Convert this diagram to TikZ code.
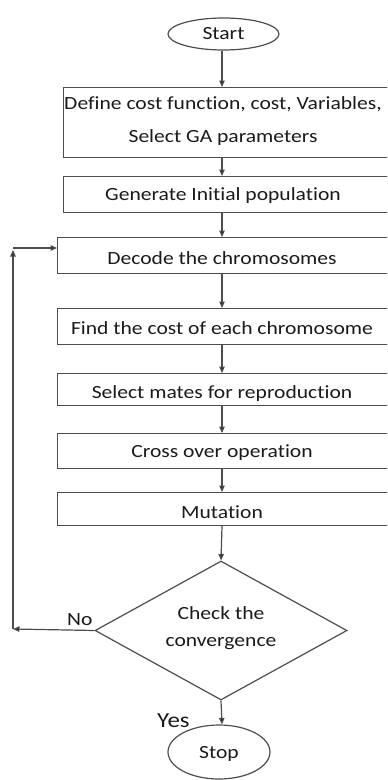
\documentclass[tikz,border=0pt]{standalone}
\usepackage{fontspec}
\setmainfont{Carlito}[FakeStretch=1.16, Ligatures={NoCommon}]
\usetikzlibrary{shapes.geometric,arrows.meta}
\definecolor{lineg}{HTML}{4D4D4D}
\definecolor{textg}{HTML}{1A1A1A}
\begin{document}
\begin{tikzpicture}[x=1bp,y=-1bp,
  font=\fontsize{18.6bp}{22bp}\selectfont,
  every node/.style={text=textg},
  stroke/.style={draw=lineg, line width=1.2bp},
  boxnode/.style={stroke, rectangle, inner sep=0pt, anchor=north west, minimum width=345bp},
  txt/.style={anchor=base, inner sep=0pt},
  term/.style={stroke, ellipse, inner sep=0pt},
  arr/.style={stroke, -{Triangle[length=6.5bp,width=5.5bp,fill=black!85]}}
]
\useasboundingbox (0,0) rectangle (387,780);
\clip (0,0) rectangle (387,780);
\coordinate (col) at (222,0);

% terminals
\node[term, minimum width=111bp, minimum height=32bp] (s) at (223.5,34) {};
\node[txt] (st) at (223.5,40) {Start};
\node[term, minimum width=102bp, minimum height=54bp] (e) at (219,752) {};
\node[txt] (et) at (219,758) {Stop};

% boxes
\node[boxnode, minimum height=70bp] (b1) at (63,87) {};
\node[boxnode, minimum height=36bp] (b2) at (63,176) {};
\node[boxnode, minimum height=36bp] (b3) at (57,237) {};
\node[boxnode, minimum height=36bp] (b4) at (57,308) {};
\node[boxnode, minimum height=32bp] (b5) at (57,373) {};
\node[boxnode, minimum height=35bp] (b6) at (57,433) {};
\node[boxnode, minimum height=33bp] (b7) at (57,492) {};

\node[txt] (t1a) at (223,109) {Define cost function, cost, Variables,};
\node[txt] (t1b) at (223,142) {Select GA parameters};
\node[txt] (t2) at (223,200) {Generate Initial population};
\node[txt] (t3) at (222,264) {Decode the chromosomes};
\node[txt] (t4) at (222,334) {Find the cost of each chromosome};
\node[txt] (t5) at (222,398) {Select mates for reproduction};
\node[txt] (t6) at (222,457) {Cross over operation};
\node[txt] (t7) at (222,518) {Mutation};

% decision
\node[stroke, diamond, inner sep=0pt, minimum width=252bp, minimum height=139bp] (d) at (221,630.5) {};
\node[txt] (dt1) at (221,619) {Check the};
\node[txt] (dt2) at (221,646) {convergence};

% labels
\node[anchor=base west, inner sep=0pt] (no) at (67,625) {No};
\node[anchor=base west, inner sep=0pt, font=\fontsize{21.5bp}{24bp}\selectfont] (yes) at (157,727) {Yes};

% main flow
\draw[arr] (col |- s.south) -- (col |- b1.north);
\draw[arr] (col |- b1.south) -- (col |- b2.north);
\draw[arr] (col |- b2.south) -- (col |- b3.north);
\draw[arr] (col |- b3.south) -- (col |- b4.north);
\draw[arr] (col |- b4.south) -- (col |- b5.north);
\draw[arr] (col |- b5.south) -- (col |- b6.north);
\draw[arr] (col |- b6.south) -- (col |- b7.north);
\draw[arr] (col |- b7.south) -- (d.north);
\draw[arr] (d.south) -- (col |- e.north);

% loop back
\coordinate (lb) at (13,629);
\coordinate (lt) at (13,248);
\draw[arr] (d.west) -- (lb);
\draw[arr] (lb) -- ([yshift=-2bp]lt);
\draw[arr] (lt) -- (lt -| b3.west);
\end{tikzpicture}
\end{document}
